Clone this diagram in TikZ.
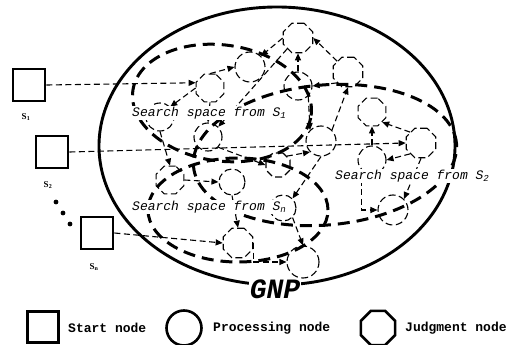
\documentclass[tikz,border=0pt]{standalone}
\usepackage{fontspec}
\setmainfont{Liberation Serif}
\newfontfamily\codefont{Liberation Mono}
\usetikzlibrary{shapes.geometric,arrows.meta}
\begin{document}
\begin{tikzpicture}[x=1pt,y=-1pt,
  boundary/.style={line width=2.9pt},
  space/.style={line width=3pt, dash pattern=on 12pt off 7pt},
  pnode/.style={circle, draw, line width=1.1pt, dash pattern=on 7pt off 3.5pt, inner sep=0pt},
  jnode/.style={regular polygon, regular polygon sides=8, draw, line width=1.1pt, dash pattern=on 7pt off 3.5pt, inner sep=0pt},
  link/.style={line width=1.1pt, dash pattern=on 6pt off 3.5pt, -{Triangle[length=7pt,width=6pt]}},
  startsq/.style={rectangle, draw, line width=2.9pt, minimum size=32pt, inner sep=0pt},
  slabel/.style={font=\bfseries\fontsize{9}{9}\selectfont, inner sep=0pt},
  spacelabel/.style={font=\codefont\itshape\fontsize{13}{13}\selectfont, fill=white, inner sep=1pt, anchor=west},
  legendtext/.style={font=\codefont\bfseries\fontsize{13}{13}\selectfont, anchor=west, inner sep=0pt}
]
\useasboundingbox (0,0) rectangle (509,345);

% GNP boundary
\draw[boundary] (277,146) ellipse [x radius=178pt, y radius=139pt];

% search spaces
\draw[space, rotate around={-8:(222,103)}] (222,103) ellipse [x radius=90pt, y radius=58pt];
\draw[space, rotate around={5:(325,155)}] (325,155) ellipse [x radius=132pt, y radius=70pt];
\draw[space] (238,210) ellipse [x radius=90pt, y radius=52pt];

% start nodes
\node[startsq] (sq1) at (29,85) {};
\node[startsq] (sq2) at (52,152) {};
\node[startsq] (sqn) at (97,233) {};
\node[slabel] (l1) at (26,117) {S\textsubscript{1}};
\node[slabel] (l2) at (48,185) {S\textsubscript{2}};
\node[slabel] (ln) at (94,267) {S\textsubscript{n}};
\fill (56,202) circle (2.4pt) (63,213) circle (2.4pt) (70,224) circle (2.4pt);

% processing and judgment nodes
\node[pnode, minimum size=30pt] (pA) at (250,67) {};
\node[jnode, minimum size=32pt] (jA) at (298,38) {};
\node[jnode, minimum size=32pt] (jB) at (348,72) {};
\node[pnode, minimum size=28pt] (pB) at (298,86) {};
\node[jnode, minimum size=30pt] (jC) at (210,88) {};
\node[pnode, minimum size=28pt] (pC) at (160,117) {};
\node[pnode, minimum size=28pt] (pD) at (208,137) {};
\node[jnode, minimum size=30pt] (jD) at (170,180) {};
\node[pnode, minimum size=26pt] (pE) at (232,182) {};
\node[jnode, minimum size=32pt] (jE) at (238,243) {};
\node[pnode, minimum size=32pt] (pF) at (303,262) {};
\node[pnode, minimum size=30pt] (pG) at (393,210) {};
\node[jnode, minimum size=32pt] (jF) at (421,143) {};
\node[jnode, minimum size=30pt] (jG) at (372,112) {};
\node[pnode, minimum size=30pt] (pH) at (321,141) {};
\node[pnode, minimum size=28pt] (pI) at (372,160) {};
\node[jnode, minimum size=26pt] (jH) at (278,165) {};
\node[pnode, minimum size=26pt] (pJ) at (283,208) {};

% connections
\draw[link] (sq1.east) -- (jC.160);
\draw[link] (sq2.east) -- (jF.west);
\draw[link] (sqn.east) -- (jE.west);
\draw[link] (jC.north) -- (pA.west);
\draw[link] (jA.west) -- (pA.north east);
\draw[link] (jB.north west) -- (jA.east);
\draw[link] (pB.north) -- (jA.south);
\draw[link] (jB.south west) -- (pB.east);
\draw[link] (pH.north east) -- (jB.south);
\draw[link] (pB.south east) -- (pH.north west);
\draw[link] (jF.north west) -- (jG.south east);
\draw[link] (jF.south west) -- (pI.east);
\draw[link] (pI.north) -- (jG.south);
\draw[link] (jF.south) -- (pG.north east);
\draw[link] (pI.south west) |- (pG.west);
\draw[link] (jA.south west) -- (pD.north east);
\draw[link] (jC.west) -- (pC.north east);
\draw[link] (jC.south) -- (pD.north);
\draw[link] (pC.south) -- (jD.north);
\draw[link] (jD.east) -- (pE.west);
\draw[link] (pE.south) -- (jE.north);
\draw[link] (pD.south east) -- (jH.west);
\draw[link] (jH.north east) -- (pH.south west);
\draw[link] (pH.south) -- (pJ.north east);
\draw[link] (pJ.south east) -- (pF.north);
\draw[link] (jE.east) |- (pF.west);

% labels
\node[spacelabel] (t1) at (131,113) {Search space from \textit{S}\textsubscript{1}};
\node[spacelabel] (t2) at (334,176) {Search space from \textit{S}\textsubscript{2}};
\node[spacelabel] (tn) at (131,207) {Search space from \textit{S}\textsubscript{n}};
\node[font=\codefont\bfseries\itshape\fontsize{28}{28}\selectfont, fill=white, inner sep=1pt] (gnp) at (275,289) {GNP};

% legend
\node[startsq, minimum size=31pt] (k1) at (43,327) {};
\node[legendtext] (k1t) at (68,328) {Start node};
\node[circle, draw, line width=2.6pt, minimum size=35pt, inner sep=0pt] (k2) at (184,328) {};
\node[legendtext] (k2t) at (213,328) {Processing node};
\node[regular polygon, regular polygon sides=8, draw, line width=2.6pt, minimum size=37pt, inner sep=0pt] (k3) at (378,328) {};
\node[legendtext] (k3t) at (405,328) {Judgment node};
\end{tikzpicture}
\end{document}
